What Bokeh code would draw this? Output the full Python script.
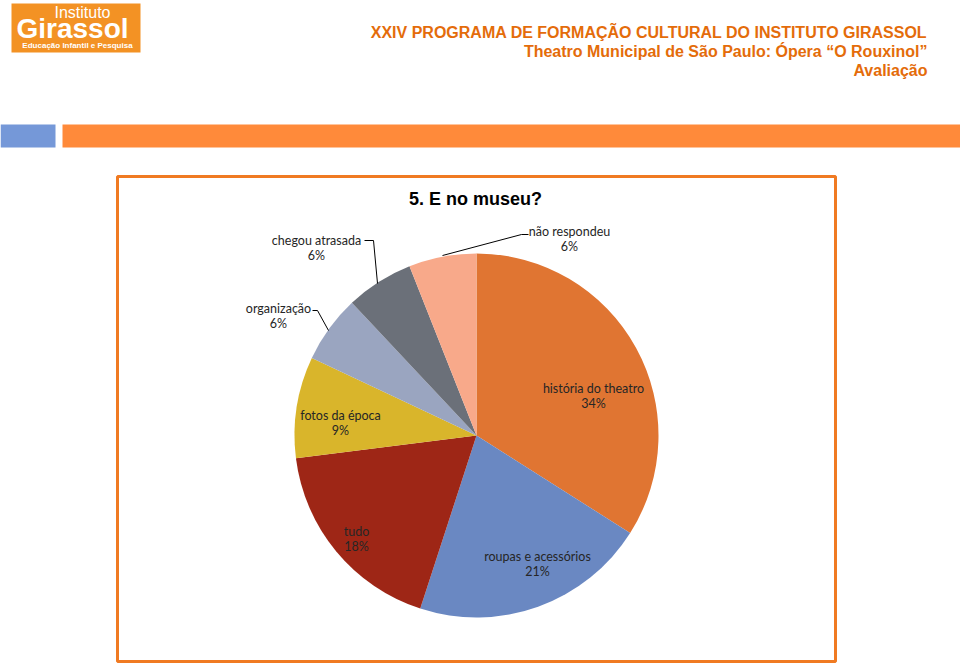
import math
from bokeh.plotting import figure
from bokeh.models import ColumnDataSource, Range1d
from bokeh.core.properties import value
from bokeh.embed import file_html
from bokeh.resources import INLINE

# ---- data ----
categories = ["história do theatro", "roupas e acessórios", "tudo", "fotos da época",
              "organização", "chegou atrasada", "não respondeu"]
percent = [34, 21, 18, 9, 6, 6, 6]
colors = ["#E07532", "#6A88C2", "#9E2616", "#D9B52B", "#9AA5C0", "#6B7079", "#F8A98A"]

header_lines = ["XXIV PROGRAMA DE FORMAÇÃO CULTURAL DO INSTITUTO GIRASSOL",
                "Theatro Municipal de São Paulo: Ópera \u201cO Rouxinol\u201d",
                "Avaliação"]
chart_title = "5. E no museu?"

# ---- layout (image pixel coords) ----
W, H = 960, 666
def X(ix): return ix
def Y(iy): return H - iy

label_pos = [(593, 388), (537, 556), (356, 531), (340, 415), (278, 308), (316, 240), (569, 231)]
leaders = [None, None, None, None,
           [(312, 310), (317, 310), (328, 330)],
           [(364, 240), (373, 240), (377, 283)],
           [(528, 234), (521, 234), (442, 255)]]

p = figure(width=W, height=H, output_backend="svg", toolbar_location=None,
           x_range=Range1d(0, W), y_range=Range1d(0, H), min_border=0)
p.axis.visible = False
p.grid.visible = False
p.outline_line_color = None
p.background_fill_color = "white"
p.border_fill_color = "white"

# logo
p.quad(left=X(11), right=X(140), top=Y(3), bottom=Y(52), fill_color="#F39224", line_color=None)
p.text(x=[X(82)], y=[Y(12)], text=["Instituto"], text_color="white", text_font=value("Liberation Sans"),
       text_font_size="16px", text_align="center", text_baseline="middle")
p.text(x=[X(72)], y=[Y(28)], text=["Girassol"], text_color="white", text_font=value("Liberation Sans"),
       text_font_size="28px", text_font_style="bold", text_align="center", text_baseline="middle")
p.text(x=[X(77)], y=[Y(45)], text=["Educação Infantil e Pesquisa"], text_color="white",
       text_font=value("Liberation Sans"), text_font_size="8px", text_font_style="bold",
       text_align="center", text_baseline="middle")

# header
for i, t in enumerate(header_lines):
    p.text(x=[X(927)], y=[Y(32 + 19 * i)], text=[t], text_color="#E46C0A",
           text_font=value("Liberation Sans"), text_font_size="16px", text_font_style="bold",
           text_align="right", text_baseline="middle")

# bars
p.quad(left=X(0), right=X(55), top=Y(124), bottom=Y(147), fill_color="#7598D8", line_color=None)
p.quad(left=X(62), right=X(960), top=Y(124), bottom=Y(147), fill_color="#FF8A3A", line_color=None)

# chart frame
p.quad(left=X(117), right=X(835), top=Y(176), bottom=Y(661), fill_color="white",
       line_color="#F07A22", line_width=3)

p.text(x=[X(475)], y=[Y(198)], text=[chart_title], text_color="black",
       text_font=value("Liberation Sans"), text_font_size="18px", text_font_style="bold",
       text_align="center", text_baseline="middle")

# pie
total = sum(percent)
starts, ends = [], []
cum = 0.0
for v in percent:
    a0 = cum / total
    cum += v
    a1 = cum / total
    ends.append(math.pi / 2 - a0 * 2 * math.pi)
    starts.append(math.pi / 2 - a1 * 2 * math.pi)
src = ColumnDataSource(dict(start=starts, end=ends, color=colors))
p.wedge(x=X(476), y=Y(435), radius=182, start_angle="start", end_angle="end",
        fill_color="color", line_color=None, source=src)

# leader lines
xs, ys = [], []
for ld in leaders:
    if ld:
        xs.append([X(a) for a, b in ld])
        ys.append([Y(b) for a, b in ld])
p.multi_line(xs=xs, ys=ys, line_color="black", line_width=1)

# labels
lx = [X(a) for a, b in label_pos]
ly1 = [Y(b) for a, b in label_pos]
ly2 = [Y(b + 15) for a, b in label_pos]
p.text(x=lx, y=ly1, text=categories, text_color="#262626", text_font=value("Lato"),
       text_font_size="12.5px", text_align="center", text_baseline="middle")
p.text(x=lx, y=ly2, text=[f"{v}%" for v in percent], text_color="#262626",
       text_font=value("Lato"), text_font_size="12.5px", text_align="center", text_baseline="middle")

open("out.html", "w").write(file_html(p, INLINE))
